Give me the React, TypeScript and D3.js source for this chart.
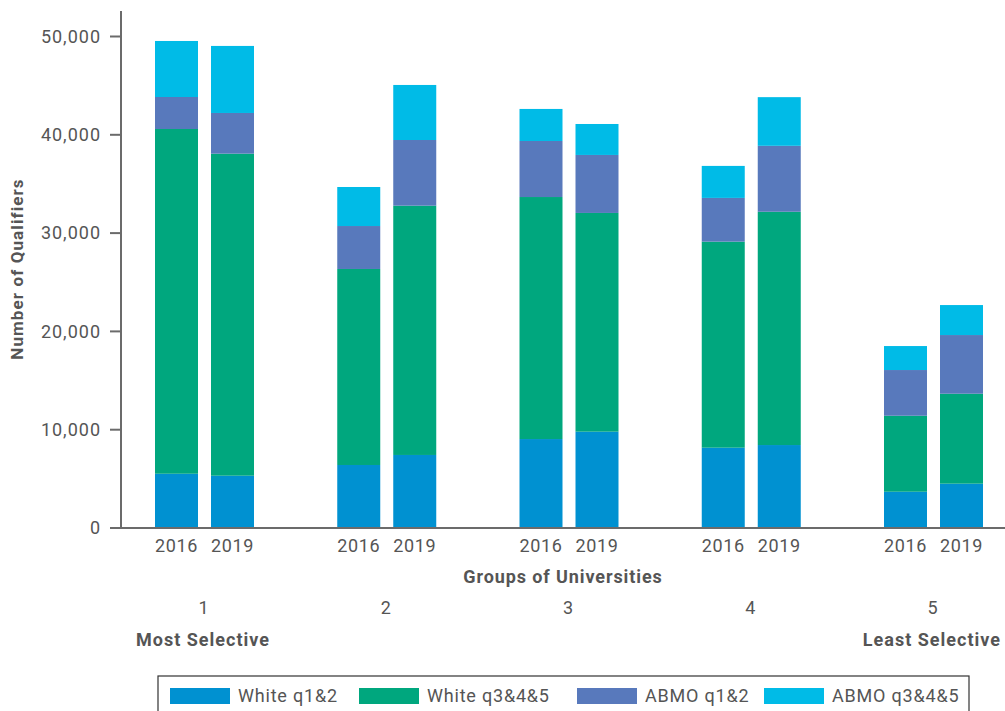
import React from "react";
import * as d3 from "d3";

const groups = ["1", "2", "3", "4", "5"];
const years = ["2016", "2019"];
const seriesKeys = ["White q1&2", "White q3&4&5", "ABMO q1&2", "ABMO q3&4&5"];
const colors = ["#0091D1", "#00A77E", "#5879BC", "#00BBE7"];
// values in order G1-2016, G1-2019, G2-2016, ...
const whiteQ12 = [5520, 5320, 6410, 7430, 9050, 9800, 8170, 8440, 3690, 4510];
const whiteQ345 = [35070, 32760, 19940, 25360, 24620, 22250, 20960, 23730, 7730, 9150];
const abmoQ12 = [3255, 4140, 4370, 6680, 5700, 5900, 4450, 6710, 4650, 5970];
const abmoQ345 = [5700, 6820, 3970, 5600, 3260, 3150, 3255, 4950, 2440, 3050];
const yTicks = [0, 10000, 20000, 30000, 40000, 50000];

export default function App() {
  const W = 1005, H = 711;
  const rows = groups.flatMap((g, gi) =>
    years.map((yr, yi) => {
      const i = gi * 2 + yi;
      return {
        group: g, year: yr,
        [seriesKeys[0]]: whiteQ12[i],
        [seriesKeys[1]]: whiteQ345[i],
        [seriesKeys[2]]: abmoQ12[i],
        [seriesKeys[3]]: abmoQ345[i],
      } as any;
    })
  );
  const stacked = d3.stack().keys(seriesKeys)(rows);
  const y = d3.scaleLinear().domain([0, 50000]).range([528, 36.5]);
  const gx = d3.scalePoint().domain(groups).range([204.5, 933.5]);
  const bx = d3.scaleBand().domain(years).range([-49.5, 49.5]).paddingInner(13 / 56).paddingOuter(0);
  const bw = bx.bandwidth();
  const barX = (r: any) => (gx(r.group) as number) + (bx(r.year) as number);
  const axisColor = "#6b6b6b";
  const textColor = "#555";
  const font = "Roboto, 'DejaVu Sans', sans-serif";

  const legendItems = [
    { swatch: 170, text: 238 },
    { swatch: 359, text: 427 },
    { swatch: 577, text: 645 },
    { swatch: 764, text: 832 },
  ];

  return (
    <svg width={W} height={H} style={{ position: "absolute", left: 0, top: 0 }} fontFamily={font}>
      {stacked.map((s, si) =>
        s.map((d, di) => (
          <rect key={si + "-" + di} x={barX(d.data)} width={bw} y={y(d[1])} height={y(d[0]) - y(d[1])} fill={colors[si]} />
        ))
      )}
      {/* y axis */}
      <line x1={121} x2={121} y1={11} y2={528} stroke={axisColor} strokeWidth={2} />
      {yTicks.map((t) => (
        <g key={t}>
          <line x1={110} x2={121} y1={y(t)} y2={y(t)} stroke={axisColor} strokeWidth={2} />
          <text x={101} y={y(t)} dy="0.35em" textAnchor="end" fontSize={18} letterSpacing={1} fill={textColor}>
            {d3.format(",")(t)}
          </text>
        </g>
      ))}
      {/* x axis */}
      <line x1={120} x2={1005} y1={528} y2={528} stroke={axisColor} strokeWidth={2} />
      {rows.map((r, i) => (
        <text key={i} x={barX(r) + bw / 2} y={552} textAnchor="middle" fontSize={18} letterSpacing={0.6} fill={textColor}>
          {r.year}
        </text>
      ))}
      <text x={563} y={583} textAnchor="middle" fontSize={18} letterSpacing={0.9} fontWeight="bold" fill={textColor}>
        Groups of Universities
      </text>
      {groups.map((g) => (
        <text key={g} x={(gx(g) as number) - 1} y={614} textAnchor="middle" fontSize={18} fill={textColor}>
          {g}
        </text>
      ))}
      <text x={203} y={646} textAnchor="middle" fontSize={18} letterSpacing={1} fontWeight="bold" fill={textColor}>
        Most Selective
      </text>
      <text x={1001} y={646} textAnchor="end" fontSize={18} letterSpacing={1} fontWeight="bold" fill={textColor}>
        Least Selective
      </text>
      <text transform={`translate(23,269) rotate(-90)`} textAnchor="middle" fontSize={17} letterSpacing={1.1} fontWeight="bold" fill={textColor}>
        Number of Qualifiers
      </text>
      {/* legend */}
      <rect x={158} y={676} width={811} height={45} fill="none" stroke="#333" strokeWidth={1.2} />
      {seriesKeys.map((k, i) => (
        <g key={k}>
          <rect x={legendItems[i].swatch} y={688} width={60} height={16} fill={colors[i]} />
          <text x={legendItems[i].text} y={696} dy="0.35em" fontSize={18} letterSpacing={0.8} fill={textColor}>
            {k}
          </text>
        </g>
      ))}
    </svg>
  );
}
